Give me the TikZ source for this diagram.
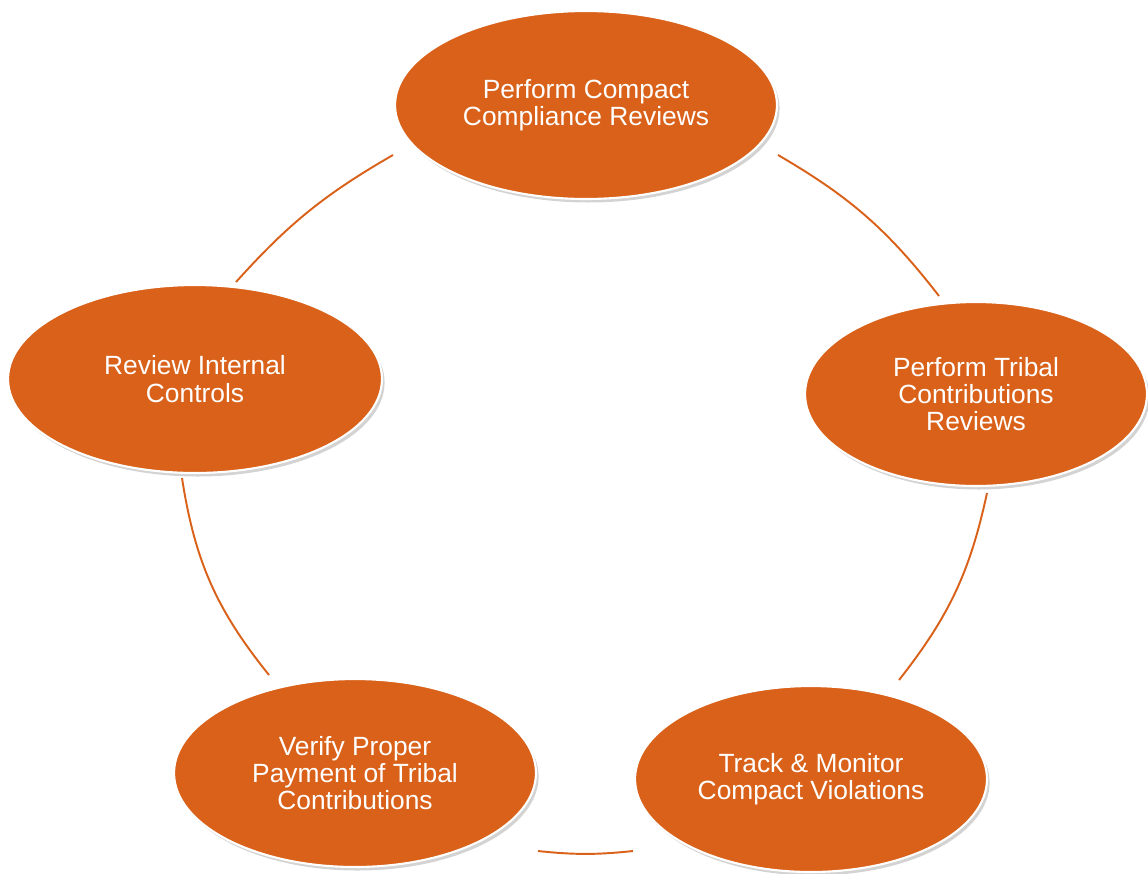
\documentclass[tikz,border=0pt]{standalone}
\usepackage{fontspec}
\setmainfont{Liberation Sans}
\usetikzlibrary{shapes.geometric, shadows}
\definecolor{cycleorange}{RGB}{217,97,25}

\begin{document}
\begin{tikzpicture}[x=0.02cm, y=-0.02cm]
      \tikzstyle{stage}=[ellipse, draw=white, line width=1.2pt, fill=cycleorange, text=white, align=center, inner sep=0pt, font=\fontsize{15}{15.5}\selectfont, drop shadow={shadow xshift=1.5pt, shadow yshift=-2pt, opacity=0.35}]
      \tikzstyle{link}=[draw=cycleorange, line width=1.1pt]
      \useasboundingbox (0,0) rectangle (1148,873);
      \node[stage, minimum width=7.64cm, minimum height=3.76cm] (compact) at (586,105) {Perform Compact\\Compliance Reviews};
      \node[stage, minimum width=6.84cm, minimum height=3.68cm] (tribal) at (976,394) {Perform Tribal\\Contributions\\Reviews};
      \node[stage, minimum width=7.04cm, minimum height=3.72cm] (track) at (811,779) {Track \& Monitor\\Compact Violations};
      \node[stage, minimum width=7.24cm, minimum height=3.76cm] (verify) at (355,773) {Verify Proper\\Payment of Tribal\\Contributions};
      \node[stage, minimum width=7.48cm, minimum height=3.76cm] (review) at (195,379) {Review Internal\\Controls};
      \coordinate (c1) at (778,155);
      \coordinate (c2) at (939,296);
      \coordinate (c3) at (987,493);
      \coordinate (c4) at (899,680);
      \coordinate (c5) at (633,851);
      \coordinate (c6) at (538,851);
      \coordinate (c7) at (269,675);
      \coordinate (c8) at (182,478);
      \coordinate (c9) at (236,282);
      \coordinate (c10) at (393,155);
      \draw[link] (c1) to[bend left=11] (c2);
      \draw[link] (c3) to[bend left=13] (c4);
      \draw[link] (c5) to[bend left=6] (c6);
      \draw[link] (c7) to[bend left=15] (c8);
      \draw[link] (c9) to[bend left=9] (c10);
  \end{tikzpicture}
\end{document}
